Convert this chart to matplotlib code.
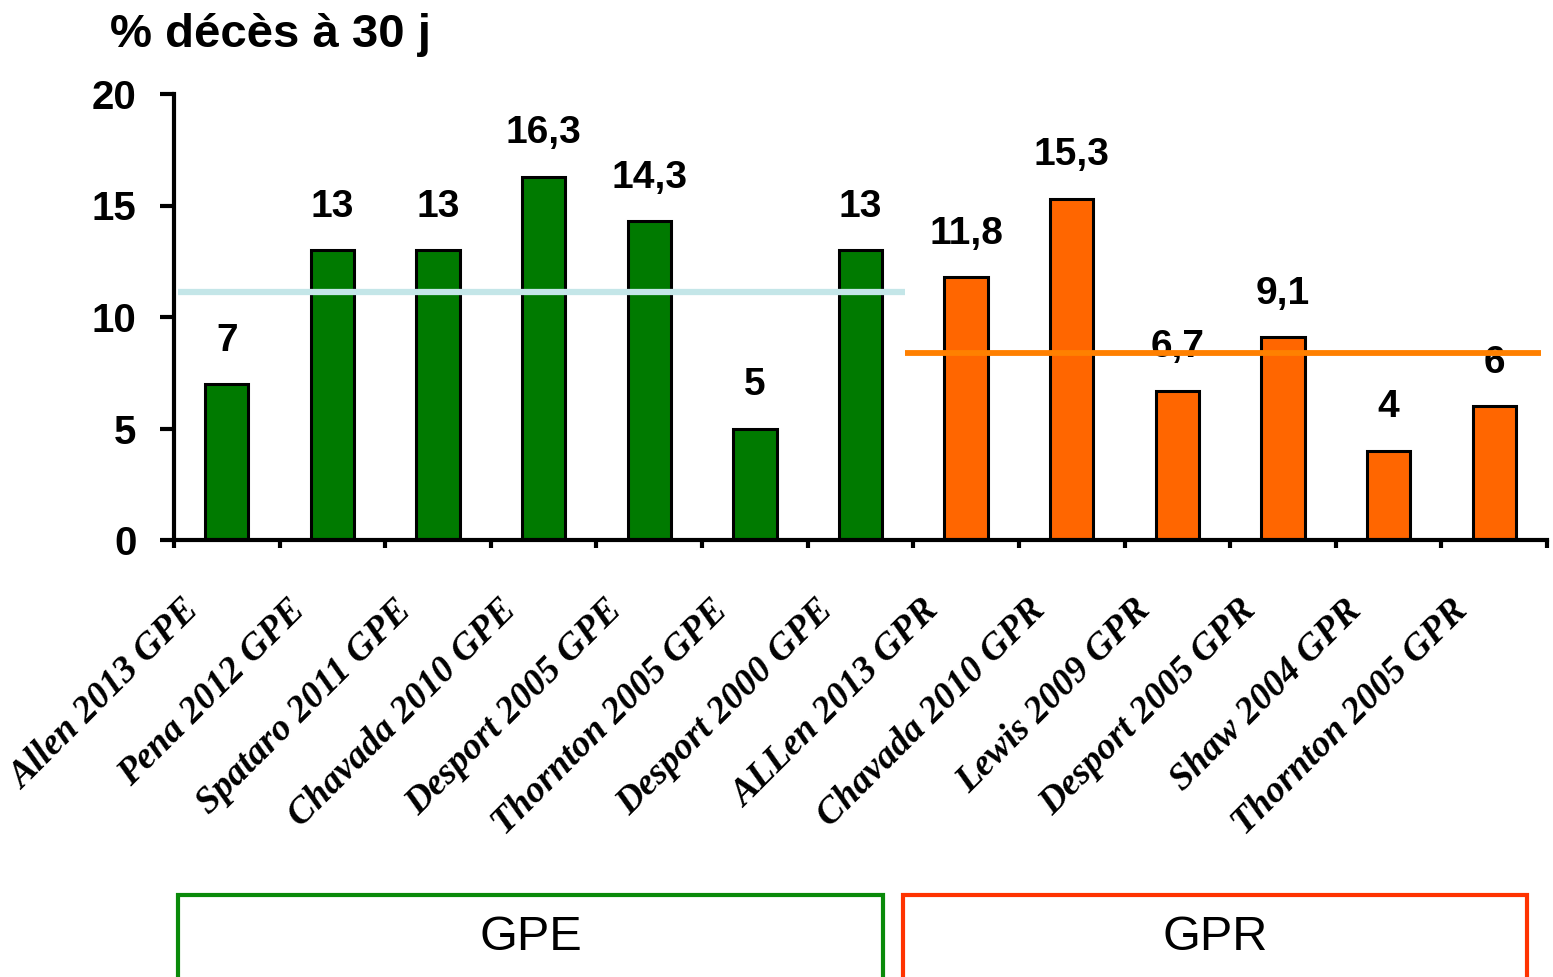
import matplotlib
matplotlib.use("Agg")
import matplotlib.pyplot as plt
import matplotlib.patches as patches
import matplotlib.transforms as mtransforms
import numpy as np

# data
studies = ["Allen 2013 GPE", "Pena 2012 GPE", "Spataro 2011 GPE", "Chavada 2010 GPE",
           "Desport 2005 GPE", "Thornton 2005 GPE", "Desport 2000 GPE",
           "ALLen 2013 GPR", "Chavada 2010 GPR", "Lewis 2009 GPR", "Desport 2005 GPR",
           "Shaw 2004 GPR", "Thornton 2005 GPR"]
deaths = [7, 13, 13, 16.3, 14.3, 5, 13, 11.8, 15.3, 6.7, 9.1, 4, 6]
groups = ["GPE"] * 7 + ["GPR"] * 6
group_ref = {"GPE": 11.1, "GPR": 8.4}

green = "#007a00"
orange = "#ff6600"
colors = [green if g == "GPE" else orange for g in groups]

plt.rcParams['font.family'] = ['Liberation Sans', 'DejaVu Sans']

W, H = 1553, 977
dpi = 100
fig = plt.figure(figsize=(W / dpi, H / dpi), dpi=dpi)
ax = fig.add_axes([174 / W, 1 - 540 / H, (1547 - 174) / W, (540 - 94) / H])

x = np.arange(len(studies))
ax.bar(x, deaths, width=0.41, color=colors, edgecolor="black", linewidth=2.2, zorder=2)

# value labels
for xi, v in zip(x, deaths):
    lab = f"{v:g}".replace(".", ",")
    ax.annotate(lab, (xi, v), xytext=(0, 24), textcoords="offset points",
                ha="center", va="baseline", fontsize=28, fontweight="bold", zorder=3)

# reference lines per group
ax.hlines(group_ref["GPE"], -0.46, 6.42, color="#c4e6e8", linewidth=4.5, zorder=4)
ax.hlines(group_ref["GPR"], 6.42, 12.44, color="#ff8000", linewidth=4.2, zorder=4)

ax.set_xlim(-0.5, len(studies) - 0.5)
ax.set_ylim(0, 20)
ax.set_yticks([0, 5, 10, 15, 20])
ax.tick_params(axis="y", direction="out", length=10, width=3, pad=17, labelsize=29)
for t in ax.get_yticklabels():
    t.set_fontweight("bold")

ax.set_xticks(np.arange(len(studies) + 1) - 0.5)
ax.set_xticklabels([])
ax.tick_params(axis="x", which="major", direction="out", length=6, width=3)
ax.set_xticks(x, minor=True)
ax.set_xticklabels(studies, minor=True, rotation=45, ha="right", va="top",
                   fontsize=27, fontweight="bold", fontstyle="italic",
                   family="Liberation Serif")
ax.tick_params(axis="x", which="minor", length=0, pad=38)
shift = mtransforms.ScaledTranslation(-20 / dpi, 0, fig.dpi_scale_trans)
for t in ax.get_xticklabels(minor=True):
    t.set_transform(t.get_transform() + shift)

for s in ["top", "right"]:
    ax.spines[s].set_visible(False)
ax.spines["left"].set_linewidth(3)
ax.spines["bottom"].set_linewidth(3)

fig.text(110 / W, 1 - 47 / H, "% décès à 30 j", fontsize=34, fontweight="bold",
         ha="left", va="baseline")

# group boxes
for name, x0, x1, col in [("GPE", 178, 883, "#0a8a0a"), ("GPR", 903, 1527, "#ff3300")]:
    rect = patches.Rectangle((x0 / W, 1 - 995 / H), (x1 - x0) / W, 100 / H,
                             transform=fig.transFigure, fill=False, edgecolor=col,
                             linewidth=3, clip_on=False)
    fig.patches.append(rect)
    fig.text((x0 + x1) / 2 / W, 1 - 937 / H, name, fontsize=35,
             ha="center", va="center")

fig.savefig("out.png", dpi=dpi)
